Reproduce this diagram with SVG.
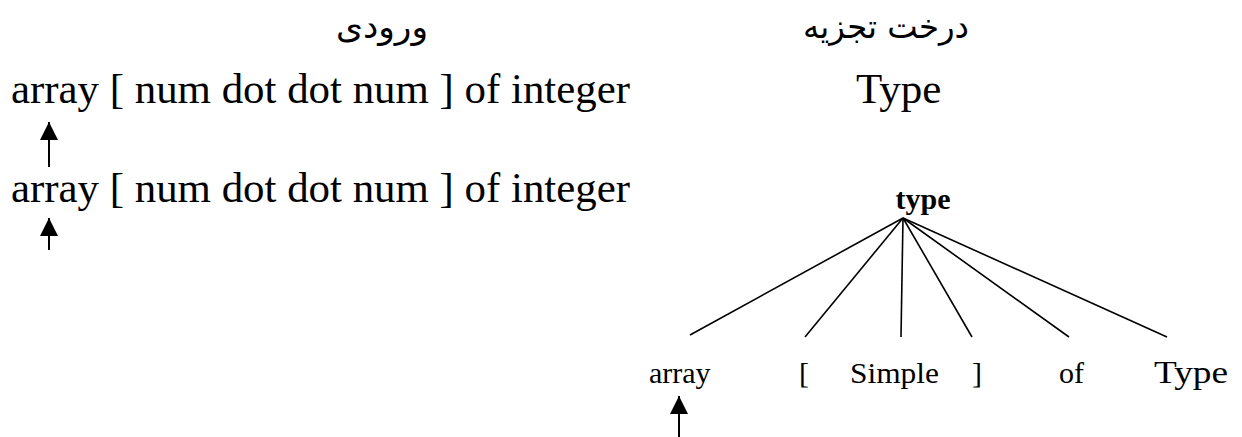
<svg xmlns="http://www.w3.org/2000/svg" width="1242" height="437" viewBox="0 0 1242 437">
<style>
.big{font-family:"Liberation Serif","Times New Roman",serif;font-size:43px;fill:#000}
.fa{font-family:"DejaVu Sans",sans-serif;font-size:33px;fill:#000}
.leaf{font-family:"Liberation Serif","Times New Roman",serif;font-size:30px;fill:#000}
.root{font-family:"Liberation Serif","Times New Roman",serif;font-size:30px;font-weight:bold;fill:#000}
.edge{stroke:#000;stroke-width:1.6;fill:none}
.shaft{stroke:#000;stroke-width:2;fill:none}
</style>
<defs>
<marker id="ah" viewBox="0 0 10 10" refX="10" refY="5" markerWidth="10" markerHeight="9" markerUnits="strokeWidth" orient="auto">
<path d="M0,0 L10,5 L0,10 z" fill="#000"/>
</marker>
</defs>
<rect width="1242" height="437" fill="#fff"/>
<g id="title-input"><text class="fa" x="382" y="38" text-anchor="middle" textLength="92" lengthAdjust="spacingAndGlyphs">ورودی</text></g>
<g id="title-tree"><text class="fa" x="886" y="38" text-anchor="middle" textLength="166" lengthAdjust="spacingAndGlyphs">درخت تجزیه</text></g>
<g id="input-line-1"><text class="big" x="11" y="103" textLength="619" lengthAdjust="spacingAndGlyphs">array [ num dot dot num ] of integer</text></g>
<g id="input-line-2"><text class="big" x="11" y="202" textLength="619" lengthAdjust="spacingAndGlyphs">array [ num dot dot num ] of integer</text></g>
<g id="type-start"><text class="big" x="856" y="103">Type</text></g>
<g id="node-root"><text class="root" x="923" y="209" text-anchor="middle">type</text></g>
<g id="node-array"><text class="leaf" x="649" y="383">array</text></g>
<g id="node-lbracket"><text class="leaf" x="799" y="383">[</text></g>
<g id="node-simple"><text class="leaf" x="850" y="383" textLength="89" lengthAdjust="spacingAndGlyphs">Simple</text></g>
<g id="node-rbracket"><text class="leaf" x="972" y="383">]</text></g>
<g id="node-of"><text class="leaf" x="1059" y="383">of</text></g>
<g id="node-type"><text class="leaf" x="1154" y="383" style="font-size:31px" textLength="74" lengthAdjust="spacingAndGlyphs">Type</text></g>
<g id="connectors">
<line class="edge" x1="903" y1="218" x2="690" y2="335"/>
<line class="edge" x1="903" y1="218" x2="805" y2="337"/>
<line class="edge" x1="903" y1="218" x2="901" y2="337"/>
<line class="edge" x1="903" y1="218" x2="972" y2="337"/>
<line class="edge" x1="903" y1="218" x2="1069" y2="337"/>
<line class="edge" x1="903" y1="218" x2="1167" y2="337"/>
<line class="shaft" x1="49" y1="167" x2="49" y2="122" marker-end="url(#ah)"/>
<line class="shaft" x1="49" y1="250" x2="49" y2="218" marker-end="url(#ah)"/>
<line class="shaft" x1="679" y1="437" x2="679" y2="396" marker-end="url(#ah)"/>
</g>
</svg>
